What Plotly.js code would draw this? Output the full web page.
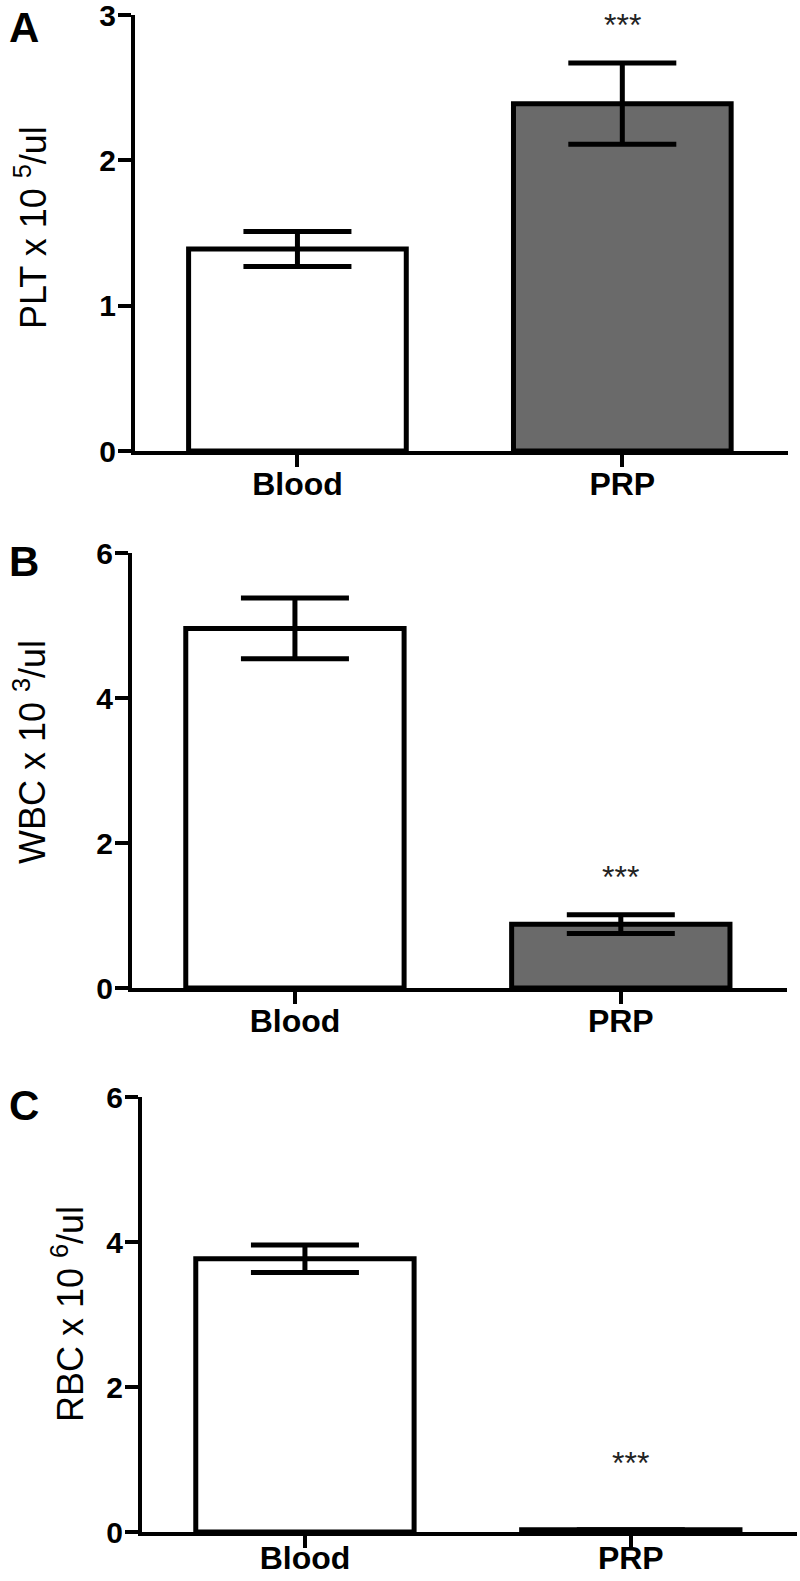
<!DOCTYPE html>
<html>
<head>
<meta charset="utf-8">
<script src="https://cdn.plot.ly/plotly-3.0.1.min.js"></script>
<style>html,body{margin:0;padding:0;background:#fff;}#chart{width:800px;height:1581px;}</style>
</head>
<body>
<div id="chart"></div>
<script>
// ---- data ----
const categories = ["Blood", "PRP"];
const pltMean = [1.39, 2.39];
const pltSem  = [0.12, 0.28];
const wbcMean = [4.96, 0.88];
const wbcSem  = [0.42, 0.13];
const rbcMean = [3.77, 0.03];
const rbcSem  = [0.19, 0.0];
const panelLabels = ["A", "B", "C"];
const yTitles = ["PLT x 10 <sup>5</sup>/ul", "WBC x 10 <sup>3</sup>/ul", "RBC x 10 <sup>6</sup>/ul"];
const yTicksA = [0, 1, 2, 3];
const yTicksBC = [0, 2, 4, 6];
const sigText = "***";
const sigY = [2.93, 1.53, 0.95];

// ---- style ----
const FONT = "Arial, 'Liberation Sans', sans-serif";
const fills = ["#ffffff", "#6a6a6a"];
const W = 800, H = 1581;
const fx = px => px / W;
const fy = px => 1 - px / H;

function barTrace(means, sems, xa, ya) {
  return {
    type: "bar", x: categories, y: means, xaxis: xa, yaxis: ya,
    width: 0.67,
    marker: { color: fills, line: { color: "#000", width: 5 } },
    error_y: { type: "data", array: sems, visible: true, color: "#000", thickness: 5, width: 54 },
    hoverinfo: "none", showlegend: false
  };
}

const data = [
  barTrace(pltMean, pltSem, "x", "y"),
  barTrace(wbcMean, wbcSem, "x2", "y2"),
  barTrace(rbcMean, rbcSem, "x3", "y3")
];

function xAxis(domain, anchor, standoff) {
  return {
    domain: domain, anchor: anchor, range: [-0.5, 1.51],
    showline: true, linecolor: "#000", linewidth: 4,
    ticks: "outside", ticklen: 12, tickwidth: 4, tickcolor: "#000",
    ticklabelstandoff: standoff, ticklabeloverflow: "allow",
    tickfont: { family: FONT, size: 32, color: "#000", weight: "bold" },
    showgrid: false, zeroline: false, fixedrange: true
  };
}
function yAxis(domain, anchor, range, tickvals) {
  return {
    domain: domain, anchor: anchor, range: range, tickvals: tickvals,
    showline: true, linecolor: "#000", linewidth: 4,
    ticks: "outside", ticklen: 13, tickwidth: 4, tickcolor: "#000",
    ticklabelstandoff: -4, ticklabeloverflow: "allow",
    tickfont: { family: FONT, size: 30, color: "#000", weight: "bold" },
    showgrid: false, zeroline: false, fixedrange: true
  };
}

const domA = { x: [fx(135), fx(788)], y: [fy(451), fy(15)] };
const domB = { x: [fx(132), fx(787)], y: [fy(988), fy(553)] };
const domC = { x: [fx(142), fx(797)], y: [fy(1532), fy(1097)] };

const annotations = [];
const labelPos = [[24, 27], [24, 561], [24, 1105]];
panelLabels.forEach((t, i) => {
  annotations.push({
    text: "<b>" + t + "</b>", xref: "paper", yref: "paper",
    x: fx(labelPos[i][0]), y: fy(labelPos[i][1]), xanchor: "center", yanchor: "middle",
    showarrow: false, font: { family: FONT, size: 42, color: "#000" }
  });
});
const titlePos = [[31, 228], [30, 752], [68, 1314]];
yTitles.forEach((t, i) => {
  annotations.push({
    text: t, xref: "paper", yref: "paper",
    x: fx(titlePos[i][0]), y: fy(titlePos[i][1]), xanchor: "center", yanchor: "middle",
    textangle: -90, showarrow: false, font: { family: FONT, size: 36, color: "#000" }
  });
});
const sigAxes = [["x", "y"], ["x2", "y2"], ["x3", "y3"]];
sigAxes.forEach((a, i) => {
  annotations.push({
    text: sigText, xref: a[0], yref: a[1], x: categories[1], y: sigY[i],
    xanchor: "center", yanchor: "middle", showarrow: false,
    font: { family: FONT, size: 32, color: "#222" }
  });
});

const layout = {
  width: W, height: H,
  margin: { l: 0, r: 0, t: 0, b: 0 },
  paper_bgcolor: "#fff", plot_bgcolor: "#fff",
  xaxis: xAxis(domA.x, "y", -10),
  yaxis: yAxis(domA.y, "x", [0, 3], yTicksA),
  xaxis2: xAxis(domB.x, "y2", -10),
  yaxis2: yAxis(domB.y, "x2", [0, 6], yTicksBC),
  xaxis3: xAxis(domC.x, "y3", -17),
  yaxis3: yAxis(domC.y, "x3", [0, 6], yTicksBC),
  annotations: annotations,
  font: { family: FONT, color: "#000" }
};

Plotly.newPlot("chart", data, layout, { staticPlot: true, displayModeBar: false });
</script>
</body>
</html>
